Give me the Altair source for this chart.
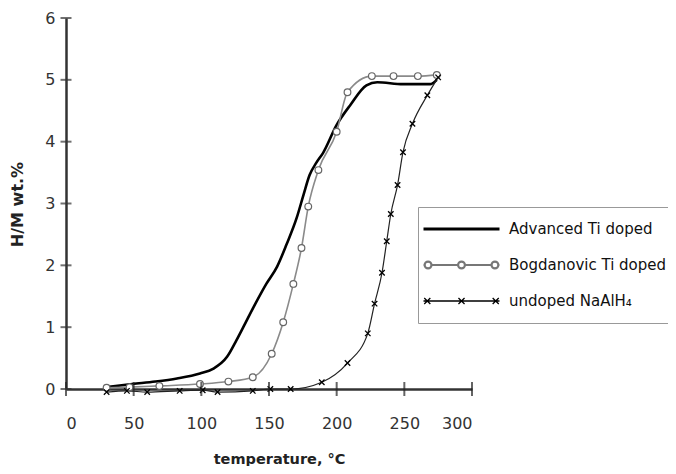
import altair as alt
import pandas as pd

# ---- data ----
adv_T = [30, 49, 66, 82, 99, 109, 119, 126, 131, 138.5, 148, 156, 163, 170.5, 175.5, 180, 185, 190, 200, 210, 222, 230, 249, 269, 274]
adv_V = [0.03, 0.08, 0.12, 0.17, 0.25, 0.33, 0.52, 0.79, 1.00, 1.32, 1.70, 1.98, 2.34, 2.77, 3.14, 3.46, 3.66, 3.82, 4.27, 4.59, 4.91, 4.96, 4.93, 4.93, 5.0]

bog_T = [30, 47, 69, 99, 120, 138, 152, 160.5, 168, 174, 179, 186.5, 200, 208, 226, 242, 260, 274]
bog_V = [0.02, 0.03, 0.05, 0.08, 0.12, 0.19, 0.57, 1.08, 1.70, 2.28, 2.95, 3.54, 4.16, 4.80, 5.06, 5.06, 5.06, 5.08]

und_T = [30, 45, 60, 84, 101, 112, 138, 151, 166, 189, 208, 223, 228, 233.5, 237, 240, 245, 249, 256, 267, 275]
und_V = [-0.05, -0.03, -0.05, -0.03, -0.02, -0.05, -0.03, 0.0, 0.0, 0.11, 0.42, 0.90, 1.38, 1.88, 2.39, 2.83, 3.30, 3.83, 4.29, 4.75, 5.04]

series_names = ["Advanced Ti doped", "Bogdanovic Ti doped", "undoped NaAlH\u2084"]
x_ticks = [0, 50, 100, 150, 200, 250, 300]
y_ticks = [0, 1, 2, 3, 4, 5, 6]

adv = pd.DataFrame({"T": adv_T, "V": adv_V, "series": series_names[0]})
bog = pd.DataFrame({"T": bog_T, "V": bog_V, "series": series_names[1]})
und = pd.DataFrame({"T": und_T, "V": und_V, "series": series_names[2]})
df = pd.concat([adv, bog, und], ignore_index=True)

xs = alt.Scale(domain=[0, 300], nice=False)
ys = alt.Scale(domain=[0, 6], nice=False)
FONT = "DejaVu Sans"

X = alt.X("T:Q", scale=xs, title="temperature, \u00b0C",
          axis=alt.Axis(values=x_ticks, format="d", ticks=False, labelPadding=26, titleX=213, titleY=70,
                        titleBaseline="middle", titleFontSize=14.5))
Y = alt.Y("V:Q", scale=ys, title="H/M wt.%",
          axis=alt.Axis(values=y_ticks, format="d", ticks=False, labelPadding=11, titleX=-49, titleY=186,
                        titleAlign="center", titleBaseline="middle", titleFontSize=16))

line_adv = alt.Chart(adv).mark_line(color="black", strokeWidth=2.6, interpolate="monotone").encode(x=X, y=Y)
line_bog = alt.Chart(bog).mark_line(color="#8a8a8a", strokeWidth=1.6, interpolate="monotone").encode(x="T:Q", y="V:Q")
line_und = alt.Chart(und).mark_line(color="#222222", strokeWidth=1.2, interpolate="monotone").encode(x="T:Q", y="V:Q")

pts_bog = alt.Chart(bog).mark_point(shape="circle", filled=True, fill="white", stroke="#666666",
                                    strokeWidth=1.2, size=45, opacity=1).encode(x="T:Q", y="V:Q")
pts_und = alt.Chart(und).mark_point(shape="M-1,-1L1,1M-1,1L1,-1", filled=False, color="black",
                                    strokeWidth=1.3, size=30, opacity=1).encode(x="T:Q", y="V:Q")

xt = pd.DataFrame({"T": x_ticks})
yt = pd.DataFrame({"V": y_ticks})
ticks_x = alt.Chart(xt).mark_tick(orient="vertical", size=14, thickness=2, color="#222").encode(
    x="T:Q", y=alt.datum(0))
ticks_y = alt.Chart(yt).mark_tick(orient="horizontal", size=11, thickness=2, color="#333").encode(
    y="V:Q", x=alt.datum(0))

r = 0.09
def circ(cx):
    return f"M{cx - r:.2f},0a{r},{r} 0 1,0 {2 * r:.2f},0a{r},{r} 0 1,0 {-2 * r:.2f},0"

def cross(cx):
    d = 0.08
    return (f"M{cx - d:.2f},{-d}L{cx + d:.2f},{d}M{cx - d:.2f},{d}L{cx + d:.2f},{-d}")

shape_paths = [
    "M-1,0L1,0",
    "M-1,0L-0.97,0M-0.79,0L-0.09,0M0.09,0L0.79,0M0.97,0L1,0" + circ(-0.88) + circ(0) + circ(0.88),
    "M-1,0L1,0" + cross(-0.9) + cross(0) + cross(0.9),
]

leg = dict(orient="none", legendX=352, legendY=189, title=None)
legend_layer = alt.Chart(df).transform_filter("false").mark_point(filled=False, size=5776, opacity=1).encode(
    x="T:Q", y="V:Q",
    color=alt.Color("series:N", scale=alt.Scale(domain=series_names, range=["black", "#777777", "black"]),
                    title=None, legend=alt.Legend(**leg)),
    shape=alt.Shape("series:N", scale=alt.Scale(domain=series_names, range=shape_paths), title=None,
                    legend=alt.Legend(**leg)),
    strokeWidth=alt.StrokeWidth("series:N", scale=alt.Scale(domain=series_names, range=[3, 1.3, 1.3]),
                                title=None, legend=alt.Legend(**leg)),
)

chart = alt.layer(line_adv, line_bog, line_und, pts_bog, pts_und, ticks_x, ticks_y, legend_layer).properties(
    width=406, height=371,
    autosize=alt.AutoSizeParams(type="none"),
    padding={"left": 58, "top": 10, "right": 196, "bottom": 77},
).configure_view(stroke=None).configure_axis(
    grid=False, domainColor="#333333", domainWidth=2.5,
    labelFont=FONT, labelFontSize=16, labelColor="#333333",
    titleFont=FONT, titleFontWeight="bold", titleColor="#222222",
).configure_legend(
    labelFont=FONT, labelFontSize=15, labelColor="#111111",
    strokeColor="#999999", fillColor="white", padding=4,
    symbolSize=5776, clipHeight=36, rowPadding=-2.5, labelOffset=8,
)

chart.save("out.html", embed_options={"renderer": "svg", "actions": False})
